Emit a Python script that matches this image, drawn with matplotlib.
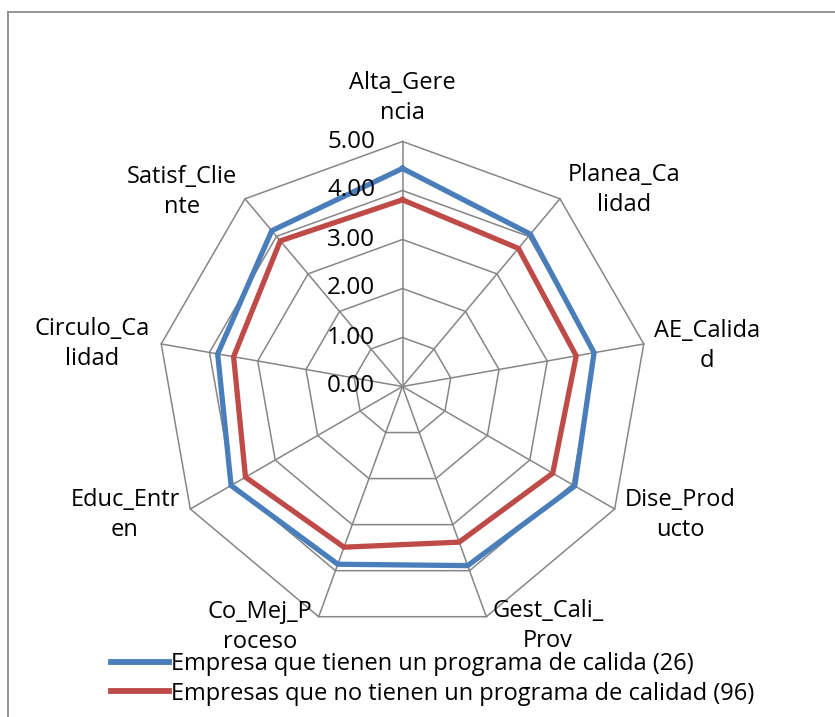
import numpy as np
from matplotlib import pyplot as plt
from matplotlib.lines import Line2D

categorias = ['Alta_Gerencia', 'Planea_Calidad', 'AE_Calidad', 'Dise_Producto',
              'Gest_Cali_Prov', 'Co_Mej_Proceso', 'Educ_Entren', 'Circulo_Calidad',
              'Satisf_Cliente']
# etiquetas tal como Excel las parte en dos renglones
etiquetas = ['Alta_Gere\nncia', 'Planea_Ca\nlidad', 'AE_Calida\nd', 'Dise_Prod\nucto',
             'Gest_Cali_\nProv', 'Co_Mej_P\nroceso', 'Educ_Entr\nen', 'Circulo_Ca\nlidad',
             'Satisf_Clie\nnte']
con_programa = [4.45, 4.06, 3.97, 4.06, 3.89, 3.86, 4.04, 3.83, 4.15]
sin_programa = [3.81, 3.68, 3.60, 3.54, 3.38, 3.49, 3.70, 3.50, 3.88]
niveles = [0, 1, 2, 3, 4, 5]
serie_nombres = ['Empresa que tienen un programa de calida (26)',
                 'Empresas que no tienen un programa de calidad (96)']

azul = '#4a7ebb'
rojo = '#be4b48'
gris = '#868686'
fuente = 'Open Sans'

W, H = 835, 717
escala = 49.0          # pixeles por unidad
cx, cy = 402.5, 386.5  # centro del radar en pixeles

fig = plt.figure(figsize=(W / 100, H / 100), dpi=100)
ax = fig.add_axes([0, 0, 1, 1])
ax.set_xlim(-cx / escala, (W - cx) / escala)
ax.set_ylim(-(H - cy) / escala, cy / escala)
ax.axis('off')

n = len(categorias)
ang = np.arange(n) * 2 * np.pi / n


def xy(vals):
    v = np.asarray(vals, dtype=float)
    x = v * np.sin(ang)
    y = v * np.cos(ang)
    return np.append(x, x[0]), np.append(y, y[0])


# rejilla poligonal
for nv in niveles[1:]:
    gx, gy = xy([nv] * n)
    ax.plot(gx, gy, color=gris, lw=1.1, zorder=1)
for a in ang:
    ax.plot([0, 5 * np.sin(a)], [0, 5 * np.cos(a)], color=gris, lw=1.1, zorder=1)

# series
bx, by = xy(con_programa)
ax.plot(bx, by, color=azul, lw=3.8, zorder=3, solid_joinstyle='miter')
rx, ry = xy(sin_programa)
ax.plot(rx, ry, color=rojo, lw=3.8, zorder=3, solid_joinstyle='miter')

# etiquetas del eje radial
for nv in niveles:
    ax.text(-0.56, nv, '%.2f' % nv, ha='right', va='center', fontsize=17.5,
            family=fuente, color='black', zorder=4)

# etiquetas de categorias (posiciones en pixeles)
pos_etq = [(402.5, 98), (624, 190), (707, 346), (680, 515), (548, 626),
           (260, 627), (125, 515), (92.5, 344), (182, 192)]
for (px, py), t in zip(pos_etq, etiquetas):
    ax.text((px - cx) / escala, (cy - py) / escala, t, ha='center', va='center',
            fontsize=17, family=fuente, linespacing=1.3, zorder=4)

# leyenda
handles = [Line2D([], [], color=azul, lw=4.2), Line2D([], [], color=rojo, lw=4.2)]
leg = fig.legend(handles, serie_nombres, loc='upper left',
                 bbox_to_anchor=(102 / W, 1 - 643 / H), frameon=False,
                 prop={'family': fuente, 'size': 17}, handlelength=2.45,
                 handletextpad=0.08, labelspacing=0.22, borderaxespad=0)

# marco del grafico
fig.add_artist(Line2D([7.5 / W, 7.5 / W], [0, 1 - 11.5 / H], color='#8c8c8c', lw=1.3))
fig.add_artist(Line2D([7.5 / W, 1], [1 - 11.5 / H, 1 - 11.5 / H], color='#8c8c8c', lw=1.3))

fig.savefig('out.png', dpi=100)
